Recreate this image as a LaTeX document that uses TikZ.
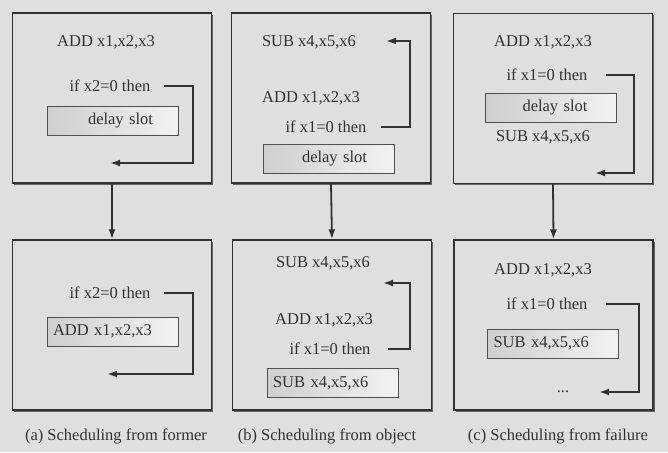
\documentclass[tikz,border=0pt]{standalone}
\usepackage{fontspec}
\setmainfont{Liberation Serif}
\usetikzlibrary{arrows.meta,shadows}
\definecolor{bggray}{RGB}{223,223,223}
\definecolor{inkgray}{RGB}{50,50,50}
\tikzset{
	panel/.style={draw=inkgray, line width=1.4pt, fill=bggray, inner sep=0pt,
		minimum width=199pt, minimum height=170pt,
		drop shadow={shadow xshift=1.6pt, shadow yshift=-1.6pt, fill=inkgray!75, opacity=1}},
	txt/.style={inner sep=0pt, text=inkgray, font=\rmfamily\fontsize{16.5}{19}\selectfont},
	slot/.style={txt, draw=inkgray!85, line width=1pt, left color=black!19, right color=black!5,
		minimum width=131pt, minimum height=29pt, text width=119pt, inner xsep=6pt, align=left},
	flow/.style={draw=inkgray, line width=1.8pt, -{Latex[length=10pt,width=7pt]}}
}
\begin{document}
\begin{tikzpicture}[x=1pt,y=-1pt]
		\fill [bggray] (0,0) rectangle (668,452);
		\useasboundingbox (0,0) rectangle (668,452);
		% panels
		\node [panel] (pa1) at (112,98) {};
		\node [panel] (pa2) at (112,325) {};
		\node [panel] (pb1) at (331,98) {};
		\node [panel] (pb2) at (332,325) {};
		\node [panel] (pc1) at (553,98.5) {};
		\node [panel] (pc2) at (553.5,325) {};
		\draw [flow] (pa1.south) -- (pa2.north);
		\draw [flow] (pb1.south) -- (pb2.north);
		\draw [flow] (pc1.south) -- (pc2.north);
		% (a)
		\node [txt] (adda1) at (106,42) {ADD x1,x2,x3};
		\node [txt] (ifa1) at (110,86) {if x2=0 then};
		\node [slot] (sa1) at (112.5,120.5) {\hspace*{35pt}delay slot};
		\coordinate (ca1) at (193,163);
		\coordinate (ea1) at (110,163);
		\draw [flow] ([xshift=13pt]ifa1.east) -| (ca1) -- (ea1);
		\node [txt] (ifa2) at (110,293) {if x2=0 then};
		\node [slot] (sa2) at (112.5,331.5) {ADD x1,x2,x3};
		\coordinate (ca2) at (193,374);
		\coordinate (ea2) at (107,374);
		\draw [flow] ([xshift=13pt]ifa2.east) -| (ca2) -- (ea2);
		\node [txt] (capa) at (116,436) {(a) Scheduling from former};
		% (b)
		\node [txt] (subb1) at (309,42) {SUB x4,x5,x6};
		\node [txt] (addb1) at (311,98) {ADD x1,x2,x3};
		\node [txt] (ifb1) at (326,127) {if x1=0 then};
		\node [slot] (sb1) at (328.5,158.5) {\hspace*{33pt}delay slot};
		\coordinate (cb1) at (410,41);
		\coordinate (eb1) at (386,41);
		\draw [flow] ([xshift=14pt]ifb1.east) -| (cb1) -- (eb1);
		\node [txt] (subb2) at (323,263) {SUB x4,x5,x6};
		\node [txt] (addb2) at (324,320) {ADD x1,x2,x3};
		\node [txt] (ifb2) at (330,349) {if x1=0 then};
		\node [slot] (sb2) at (332.5,383) {SUB x4,x5,x6};
		\coordinate (cb2) at (410,283);
		\coordinate (eb2) at (383,283);
		\draw [flow] ([xshift=17pt]ifb2.east) -| (cb2) -- (eb2);
		\node [txt] (capb) at (327,436) {(b) Scheduling from object};
		% (c)
		\node [txt] (addc1) at (543,42) {ADD x1,x2,x3};
		\node [txt] (ifc1) at (547,75) {if x1=0 then};
		\node [slot] (sc1) at (551,107.5) {\hspace*{31pt}delay slot};
		\node [txt] (subc1) at (543,137) {SUB x4,x5,x6};
		\coordinate (cc1) at (634,173);
		\coordinate (ec1) at (595,173);
		\draw [flow] ([xshift=18pt]ifc1.east) -| (cc1) -- (ec1);
		\node [txt] (addc2) at (543,270) {ADD x1,x2,x3};
		\node [txt] (ifc2) at (547,304) {if x1=0 then};
		\node [slot] (sc2) at (553,343.5) {SUB x4,x5,x6};
		\node [txt] (dotc2) at (563,392) {...};
		\coordinate (cc2) at (639,392);
		\coordinate (ec2) at (599,392);
		\draw [flow] ([xshift=18pt]ifc2.east) -| (cc2) -- (ec2);
		\node [txt] (capc) at (558,436) {(c) Scheduling from failure};
\end{tikzpicture}
\end{document}
